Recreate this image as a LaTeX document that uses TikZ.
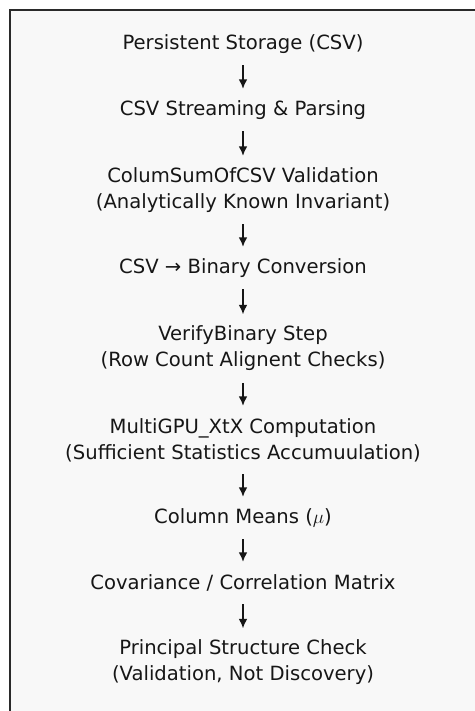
\documentclass[tikz,border=0pt]{standalone}
\usepackage{fontspec}
\setmainfont{DejaVu Sans}
\usepackage{xcolor}
\usetikzlibrary{arrows.meta}
\definecolor{panel}{HTML}{F8F8F8}
\definecolor{frameline}{HTML}{2A2A2A}
\definecolor{ink}{HTML}{161616}
\tikzset{
    stage/.style={inner sep=0pt, minimum height=31.5pt, align=center, text=ink, font=\fontsize{14.7}{19.5}\selectfont},
    stagetwo/.style={stage, minimum height=51pt},
    flow/.style={-{Latex[length=7pt,width=6.5pt]}, line width=1pt, draw=ink}}

\begin{document}
\begin{tikzpicture}[x=0.75pt,y=0.75pt]
\useasboundingbox (0,0) rectangle (475,-711);
\clip (0,0) rectangle (475,-711);
\draw[line width=2.2pt, draw=frameline, fill=panel] (10,-10) rectangle (490,-730);

\node[stage] (s1) at (243,-44) {Persistent Storage (CSV)};
\node[stage] (s2) at (243,-110) {CSV Streaming \& Parsing};
\node[stagetwo] (s3) at (243,-190) {ColumSumOfCSV Validation\\(Analytically Known Invariant)};
\node[stage] (s4) at (243,-268) {CSV → Binary Conversion};
\node[stagetwo] (s5) at (243,-348.5) {VerifyBinary Step\\(Row Count Alignent Checks)};
\node[stagetwo] (s6) at (243,-440) {MultiGPU\_XtX Computation\\(Sufficient Statistics Accumuulation)};
\node[stage] (s7) at (243,-518) {Column Means ($\mu$)};
\node[stage] (s8) at (243,-583) {Covariance / Correlation Matrix};
\node[stagetwo] (s9) at (243,-662.5) {Principal Structure Check\\(Validation, Not Discovery)};

\draw[flow] (s1) -- (s2);
\draw[flow] (s2) -- (s3);
\draw[flow] (s3) -- (s4);
\draw[flow] (s4) -- (s5);
\draw[flow] (s5) -- (s6);
\draw[flow] (s6) -- (s7);
\draw[flow] (s7) -- (s8);
\draw[flow] (s8) -- (s9);
\end{tikzpicture}
\end{document}
